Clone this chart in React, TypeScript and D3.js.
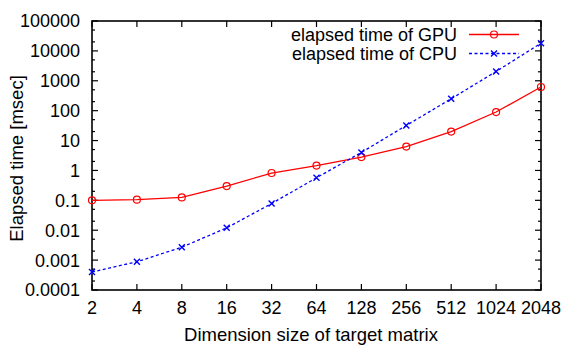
import React from 'react';
import * as d3 from 'd3';

// matrix dimension (x) and elapsed time in msec (y)
const dims = [2, 4, 8, 16, 32, 64, 128, 256, 512, 1024, 2048];
const gpuMs = [0.1, 0.105, 0.125, 0.3, 0.82, 1.45, 2.8, 6.3, 20, 90, 620];
const cpuMs = [0.0004, 0.00088, 0.0027, 0.012, 0.078, 0.57, 4.0, 32, 250, 2050, 18000];
const yTicks = [0.0001, 0.001, 0.01, 0.1, 1, 10, 100, 1000, 10000, 100000];
const yTickLabels = ['0.0001', '0.001', '0.01', '0.1', '1', '10', '100', '1000', '10000', '100000'];
const seriesNames = ['elapsed time of GPU', 'elapsed time of CPU'];

const W = 563;
const H = 345;
const margin = { top: 21, right: 22, bottom: 55, left: 92 };
const FONT = '"Liberation Sans", Arial, Helvetica, sans-serif';

const App = () => {
  const x = d3.scaleLog().base(2).domain([2, 2048]).range([margin.left, W - margin.right]);
  const y = d3.scaleLog().domain([1e-4, 1e5]).range([H - margin.bottom, margin.top]);
  const [x0, x1] = x.range();
  const [y0, y1] = y.range();

  // minor ticks at 2 and 5 of every decade
  const minor: number[] = [];
  yTicks.slice(0, -1).forEach((t) => {
    minor.push(t * 2, t * 5);
  });

  const line = d3
    .line<number>()
    .x((_, i) => x(dims[i]))
    .y((d) => y(d));

  const cross = (cx: number, cy: number, s: number) =>
    `M${cx - s},${cy - s}L${cx + s},${cy + s}M${cx - s},${cy + s}L${cx + s},${cy - s}`;

  const legendX = 457;
  const legendRows = [34.5, 53.5];

  return (
    <svg
      width={W}
      height={H}
      style={{ position: 'absolute', left: 0, top: 0, background: '#fff' }}
      fontFamily={FONT}
    >
      {/* ticks, mirrored on all sides */}
      <g stroke="#000" strokeWidth={1.2}>
        {yTicks.map((t) => (
          <g key={'y' + t}>
            <line x1={x0} x2={x0 + 6} y1={y(t)} y2={y(t)} />
            <line x1={x1} x2={x1 - 6} y1={y(t)} y2={y(t)} />
          </g>
        ))}
        {minor.map((t) => (
          <g key={'m' + t}>
            <line x1={x0} x2={x0 + 3} y1={y(t)} y2={y(t)} />
            <line x1={x1} x2={x1 - 3} y1={y(t)} y2={y(t)} />
          </g>
        ))}
        {dims.map((d) => (
          <g key={'x' + d}>
            <line x1={x(d)} x2={x(d)} y1={y0} y2={y0 - 6} />
            <line x1={x(d)} x2={x(d)} y1={y1} y2={y1 + 6} />
          </g>
        ))}
      </g>

      {/* frame */}
      <rect
        x={x0}
        y={y1}
        width={x1 - x0}
        height={y0 - y1}
        fill="none"
        stroke="#000"
        strokeWidth={1.6}
      />

      {/* tick labels */}
      <g fontSize={18} fill="#000">
        {yTicks.map((t, i) => (
          <text key={'yl' + t} x={x0 - 12} y={y(t)} dy="0.36em" textAnchor="end">
            {yTickLabels[i]}
          </text>
        ))}
        {dims.map((d) => (
          <text key={'xl' + d} x={x(d)} y={314} textAnchor="middle">
            {d}
          </text>
        ))}
      </g>

      {/* axis titles */}
      <text x={311} y={341} fontSize={18.5} textAnchor="middle">
        Dimension size of target matrix
      </text>
      <text
        transform={`translate(23,${(y0 + y1) / 2 + 3}) rotate(-90)`}
        fontSize={18.5}
        textAnchor="middle"
      >
        Elapsed time [msec]
      </text>

      {/* series */}
      <path d={line(gpuMs) || ''} fill="none" stroke="#f00" strokeWidth={1.3} />
      {gpuMs.map((v, i) => (
        <circle key={'g' + i} cx={x(dims[i])} cy={y(v)} r={3.5} fill="none" stroke="#f00" strokeWidth={1.2} />
      ))}
      <path
        d={line(cpuMs) || ''}
        fill="none"
        stroke="#00f"
        strokeWidth={1.3}
        strokeDasharray="3,2.5"
      />
      {cpuMs.map((v, i) => (
        <path key={'c' + i} d={cross(x(dims[i]), y(v), 3)} stroke="#00f" strokeWidth={1.4} fill="none" />
      ))}

      {/* legend */}
      <g fontSize={18}>
        {seriesNames.map((name, i) => (
          <text key={name} x={legendX} y={legendRows[i]} dy="0.36em" textAnchor="end">
            {name}
          </text>
        ))}
        <line x1={469} x2={519} y1={legendRows[0]} y2={legendRows[0]} stroke="#f00" strokeWidth={1.3} />
        <circle cx={494} cy={legendRows[0]} r={3.5} fill="none" stroke="#f00" strokeWidth={1.2} />
        <line
          x1={469}
          x2={519}
          y1={legendRows[1]}
          y2={legendRows[1]}
          stroke="#00f"
          strokeWidth={1.3}
          strokeDasharray="3,2.5"
        />
        <path d={cross(494, legendRows[1], 3)} stroke="#00f" strokeWidth={1.4} fill="none" />
      </g>
    </svg>
  );
};

export default App;
